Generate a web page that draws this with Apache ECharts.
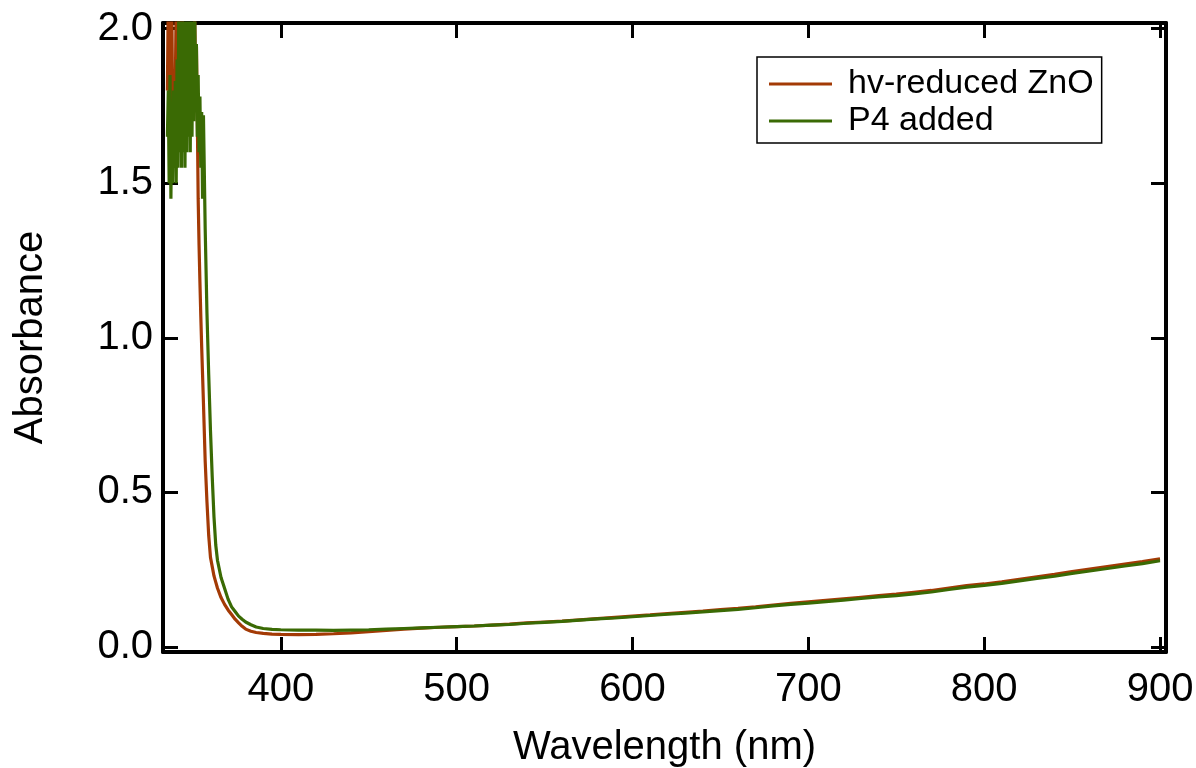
<!DOCTYPE html>
<html>
<head>
<meta charset="utf-8">
<script src="https://cdn.jsdelivr.net/npm/echarts@6/dist/echarts.min.js"></script>
<style>
html,body{margin:0;padding:0;background:#fff;}
#chart{width:1196px;height:768px;}
</style>
</head>
<body>
<div id="chart"></div>
<script>
// ---- Data ----
const seriesNames = ['hv-reduced ZnO', 'P4 added'];
const xTicks = [400, 500, 600, 700, 800, 900];
const yTicks = [0, 0.5, 1.0, 1.5, 2.0];

// noisy saturated region, 335.5–356 nm in 0.5 nm steps
const wlNoisy = [335.5,336,336.5,337,337.5,338,338.5,339,339.5,340,340.5,341,341.5,342,342.5,343,343.5,344,344.5,345,345.5,346,346.5,347,347.5,348,348.5,349,349.5,350,350.5,351,351.5,352,352.5,353,353.5,354,354.5,355,355.5,356];
const redNoisy = [1.8,2.1,1.75,2.1,1.85,2.1,1.7,1.75,1.65,1.8,2.1,1.8,2.1,1.75,2.05,1.7,1.85,2.05,1.75,1.9,1.7,1.85,1.75,1.9,1.8,1.95,1.75,1.9,1.8,2.0,1.8,2.05,1.85,1.95,1.72,1.45,1.3,1.18,1.07,0.97,0.88,0.79];
const greenNoisy = [1.65,1.8,1.5,1.85,1.45,1.75,1.5,1.8,1.55,1.83,1.5,1.9,1.55,2.1,1.6,2.1,1.55,2.1,1.6,2.05,1.55,2.1,1.6,2.1,1.65,2.1,1.6,2.05,1.65,2.1,1.7,2.1,1.75,1.95,1.65,1.85,1.6,1.78,1.55,1.73,1.45,1.72];

// absorption edge
const wlEdge = [357,358,359,360,361,362,363,364,366,368,370,372,374,376,378,380,383,386,390,395];
const redEdge = [0.6,0.47,0.36,0.29,0.26,0.23,0.21,0.19,0.16,0.138,0.12,0.105,0.09,0.078,0.067,0.058,0.051,0.047,0.044,0.042];
const greenEdge = [1.35,1.08,0.88,0.7,0.55,0.42,0.33,0.28,0.225,0.19,0.155,0.13,0.115,0.1,0.09,0.081,0.072,0.065,0.06,0.057];

// baseline 400–900 nm in 10 nm steps
const wlBase = [400,410,420,430,440,450,460,470,480,490,500,510,520,530,540,550,560,570,580,590,600,610,620,630,640,650,660,670,680,690,700,710,720,730,740,750,760,770,780,790,800,810,820,830,840,850,860,870,880,890,900];
const redBase = [0.041,0.040,0.041,0.043,0.046,0.050,0.054,0.058,0.061,0.064,0.066,0.068,0.071,0.074,0.078,0.081,0.084,0.088,0.092,0.096,0.100,0.104,0.108,0.112,0.116,0.121,0.125,0.130,0.136,0.141,0.146,0.151,0.156,0.161,0.166,0.171,0.177,0.183,0.191,0.199,0.204,0.211,0.219,0.227,0.235,0.244,0.252,0.260,0.268,0.276,0.285];
const greenBase = [0.056,0.055,0.055,0.054,0.055,0.056,0.058,0.060,0.062,0.064,0.066,0.068,0.071,0.073,0.077,0.080,0.083,0.087,0.091,0.094,0.098,0.102,0.106,0.110,0.114,0.118,0.122,0.127,0.133,0.138,0.142,0.147,0.152,0.157,0.162,0.166,0.172,0.178,0.186,0.194,0.199,0.206,0.214,0.222,0.229,0.238,0.246,0.254,0.262,0.270,0.279];

// ---- Build ----
const wl = wlNoisy.concat(wlEdge, wlBase);
const red = redNoisy.concat(redEdge, redBase);
const green = greenNoisy.concat(greenEdge, greenBase);
const pairs = (xs, ys) => xs.map((x, i) => [x, ys[i]]);

const FONT = 'Liberation Sans, Arial, sans-serif';
const X_MIN = 333, X_MAX = 903.4, Y_MIN = -0.016, Y_MAX = 2.018;

const axisLineStyle = { color: '#000', width: 4 };
const tickStyle = { color: '#000', width: 3 };

function xAxisDef(pos, showLabel, showName) {
  return {
    type: 'value', position: pos, min: X_MIN, max: X_MAX,
    name: showName ? 'Wavelength (nm)' : '',
    nameLocation: 'middle', nameGap: 76,
    nameTextStyle: { fontSize: 40, color: '#000', fontFamily: FONT },
    axisLine: { show: true, onZero: false, lineStyle: axisLineStyle },
    axisTick: { show: true, inside: true, length: 15, lineStyle: tickStyle, customValues: xTicks },
    axisLabel: { show: showLabel, customValues: xTicks, fontSize: 40, color: '#000', fontFamily: FONT, margin: 18 },
    splitLine: { show: false }
  };
}
function yAxisDef(pos, showLabel, showName) {
  return {
    type: 'value', position: pos, min: Y_MIN, max: Y_MAX,
    name: showName ? 'Absorbance' : '',
    nameLocation: 'middle', nameGap: 112,
    nameTextStyle: { fontSize: 40, color: '#000', fontFamily: FONT },
    axisLine: { show: true, onZero: false, lineStyle: axisLineStyle },
    axisTick: { show: true, inside: true, length: 15, lineStyle: tickStyle, customValues: yTicks },
    axisLabel: { show: showLabel, customValues: yTicks, fontSize: 40, color: '#000', fontFamily: FONT, margin: 10,
      formatter: v => Number(v).toFixed(1) },
    splitLine: { show: false }
  };
}

const chart = echarts.init(document.getElementById('chart'), null, { renderer: 'canvas' });
chart.setOption({
  animation: false,
  backgroundColor: '#fff',
  grid: { left: 163, right: 30, top: 23, bottom: 116, containLabel: false, outerBoundsMode: 'none' },
  legend: {
    left: 757, top: 57, orient: 'vertical',
    padding: [10, 8, 5, 12], itemGap: 3,
    itemWidth: 63, itemHeight: 3, icon: 'rect',
    borderColor: '#000', borderWidth: 1.5,
    textStyle: { fontSize: 34, color: '#000', fontFamily: FONT, padding: [0, 0, 0, 11] },
    data: seriesNames
  },
  xAxis: [xAxisDef('bottom', true, true), xAxisDef('top', false, false)],
  yAxis: [yAxisDef('left', true, true), yAxisDef('right', false, false)],
  series: [
    { name: seriesNames[0], type: 'line', xAxisIndex: 0, yAxisIndex: 0, showSymbol: false, symbol: 'none',
      color: '#a33a05', lineStyle: { width: 3.2, color: '#a33a05' }, data: pairs(wl, red), z: 2 },
    { name: seriesNames[1], type: 'line', xAxisIndex: 0, yAxisIndex: 0, showSymbol: false, symbol: 'none',
      color: '#3a6a04', lineStyle: { width: 3.2, color: '#3a6a04' }, data: pairs(wl, green), z: 3 }
  ]
});
</script>
</body>
</html>
